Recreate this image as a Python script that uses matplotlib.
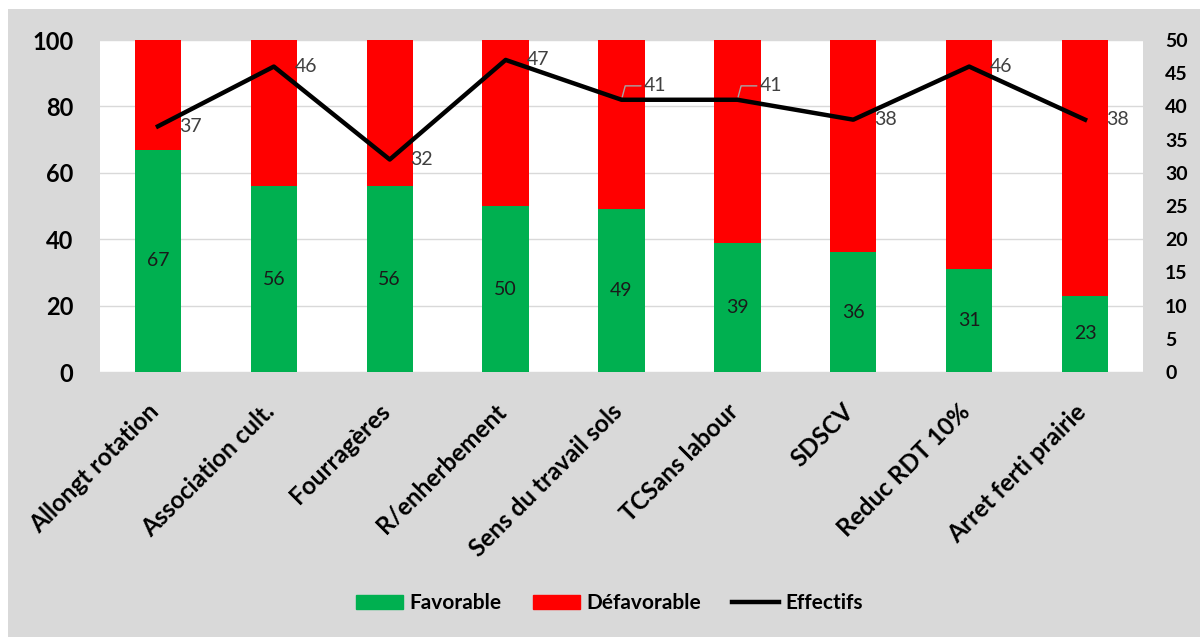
import matplotlib.pyplot as plt
import matplotlib.patches as mpatches
import matplotlib.transforms as mtransforms
from matplotlib.lines import Line2D
import numpy as np

plt.rcParams['font.family'] = ['Lato', 'DejaVu Sans']

categories = ['Allongt rotation', 'Association cult.', 'Fourragères', 'R/enherbement',
              'Sens du travail sols', 'TCSans labour', 'SDSCV', 'Reduc RDT 10%',
              'Arret ferti prairie']
favorable = [67, 56, 56, 50, 49, 39, 36, 31, 23]
defavorable = [100 - v for v in favorable]
effectifs = [37, 46, 32, 47, 41, 41, 38, 46, 38]

GREEN = '#00b050'
RED = '#ff0000'
GRID = '#d9d9d9'

fig = plt.figure(figsize=(12, 6.37), dpi=100)
fig.patch.set_facecolor('white')
fig.patches.append(mpatches.Rectangle((8 / 1200, 0), 1 - 8 / 1200, 1 - 9 / 637,
                                      transform=fig.transFigure, facecolor='#d9d9d9',
                                      edgecolor='none', zorder=-10))

ax = fig.add_axes([100 / 1200, 1 - 372 / 637, 1043 / 1200, 332 / 637])
ax.set_facecolor('white')
x = np.arange(len(categories))

ax.bar(x, favorable, width=0.4, color=GREEN, zorder=2)
ax.bar(x, defavorable, width=0.4, bottom=favorable, color=RED, zorder=2)
for xi, v in zip(x, favorable):
    ax.text(xi, v / 2, str(v), ha='center', va='center', fontsize=14, color='#1a1a1a', zorder=3)

ax.set_xlim(-0.5, len(categories) - 0.5)
ax.set_ylim(0, 100)
ax.set_yticks(np.arange(0, 101, 20))
ax.yaxis.grid(True, color=GRID, linewidth=1)
ax.set_axisbelow(True)
ax.tick_params(axis='y', length=0, pad=19, labelsize=17)
for lbl in ax.get_yticklabels():
    lbl.set_fontweight('bold')
ax.set_xticks(x)
ax.set_xticklabels([])
ax.tick_params(axis='x', length=0)
for s in ax.spines.values():
    s.set_visible(False)

# category labels, rotated, below each bar
label_tr = ax.get_xaxis_transform() + mtransforms.ScaledTranslation(-3 / 100, -36 / 100, fig.dpi_scale_trans)
for xi, cat in zip(x, categories):
    ax.text(xi, 0, cat, transform=label_tr, rotation=45, rotation_mode='anchor',
            ha='right', va='center', fontsize=17.5, fontweight='bold', color='black')

ax2 = ax.twinx()
ax2.plot(x, effectifs, color='black', linewidth=3.2, zorder=4)
ax2.set_ylim(0, 50)
ax2.set_yticks(np.arange(0, 51, 5))
ax2.tick_params(axis='y', length=0, pad=16, labelsize=14)
for lbl in ax2.get_yticklabels():
    lbl.set_fontweight('bold')
for s in ax2.spines.values():
    s.set_visible(False)

for i, (xi, v) in enumerate(zip(x, effectifs)):
    if i in (4, 5):
        ax2.annotate(str(v), xy=(xi, v), xytext=(16, 10), textcoords='offset points',
                     ha='left', va='center', fontsize=14, color='#404040',
                     arrowprops=dict(arrowstyle='-', color='#a6a6a6', lw=1,
                                     shrinkA=0, shrinkB=2,
                                     connectionstyle='angle,angleA=0,angleB=75,rad=0'))
    else:
        ax2.annotate(str(v), xy=(xi, v), xytext=(15, 0), textcoords='offset points',
                     ha='left', va='center', fontsize=14, color='#404040')

handles = [mpatches.Patch(color=GREEN, label='Favorable'),
           mpatches.Patch(color=RED, label='Défavorable'),
           Line2D([0], [0], color='black', linewidth=3.2, label='Effectifs')]
leg = fig.legend(handles=handles, loc='center', bbox_to_anchor=(0.508, 0.053), ncol=3,
                 frameon=False, prop={'size': 15, 'weight': 'bold'},
                 handlelength=2.26, handleheight=0.6, handletextpad=0.3, columnspacing=1.5)

plt.savefig('out.png', dpi=100, facecolor=fig.get_facecolor())
